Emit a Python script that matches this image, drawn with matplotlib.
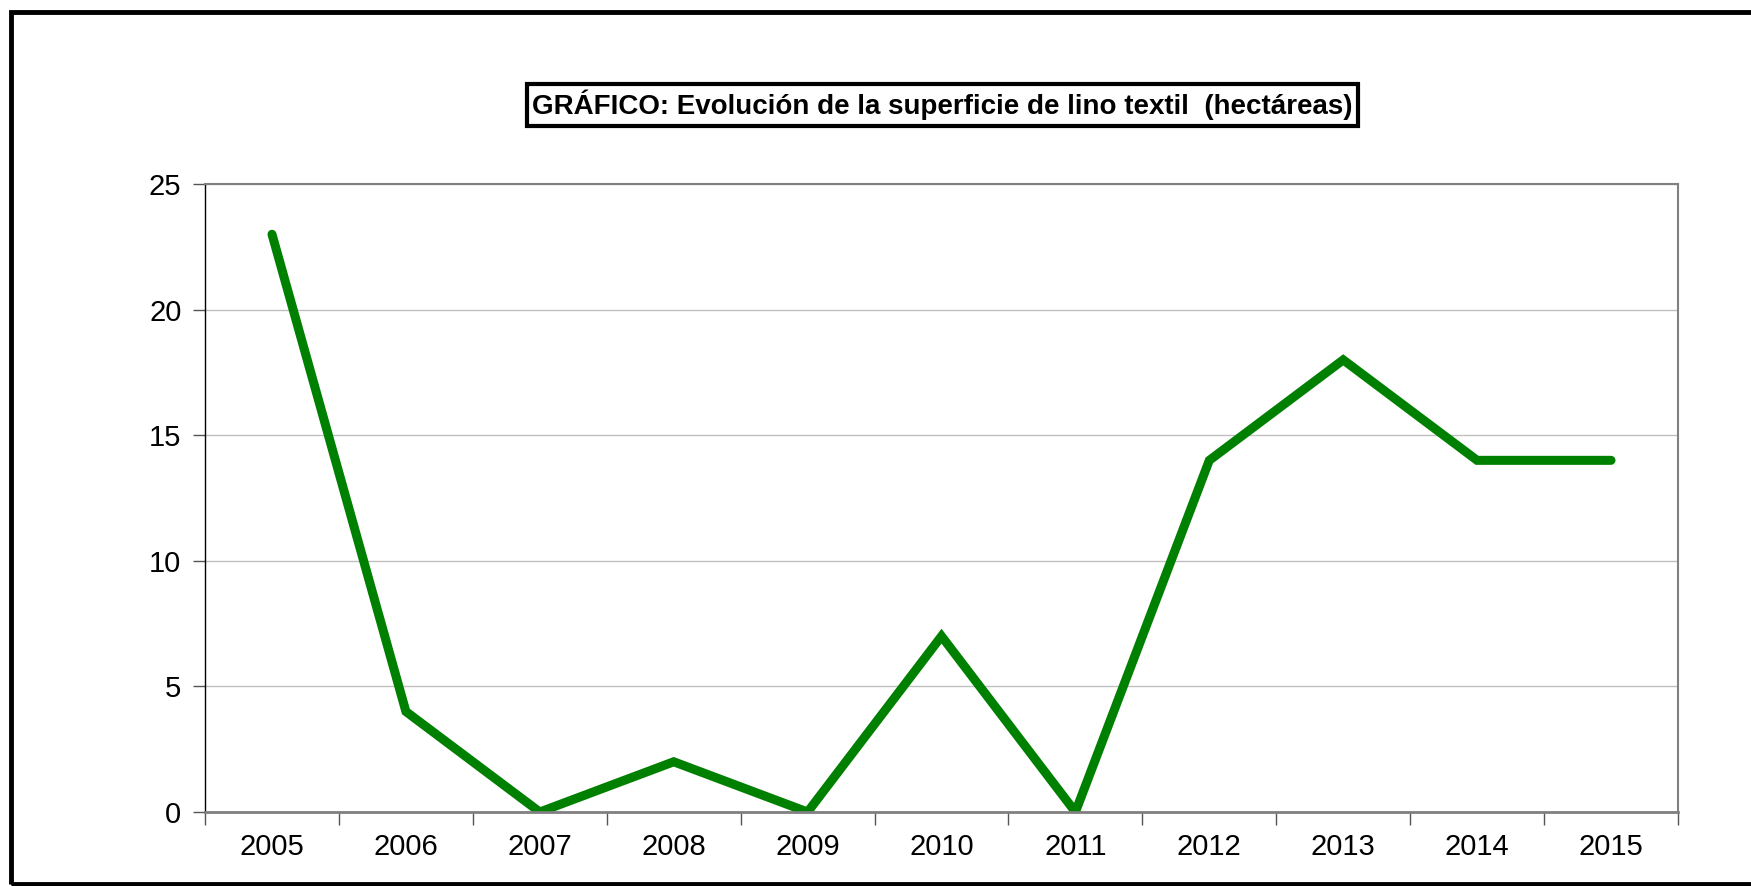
import matplotlib
matplotlib.use('Agg')
import matplotlib.pyplot as plt
from matplotlib.patches import Rectangle

plt.rcParams['font.family'] = ['Liberation Sans', 'DejaVu Sans']

# Datos
anios = ['2005', '2006', '2007', '2008', '2009', '2010',
         '2011', '2012', '2013', '2014', '2015']
superficie = [23, 4, 0, 2, 0, 7, 0, 14, 18, 14, 14]
y_ticks = [0, 5, 10, 15, 20, 25]
titulo = 'GRÁFICO: Evolución de la superficie de lino textil  (hectáreas)'

fig = plt.figure(figsize=(17.51, 8.86), dpi=100)
ax = fig.add_axes([0.1171, 0.0835, 0.8412, 0.7088])

x = list(range(len(anios)))
ax.plot(x, superficie, color='#008000', linewidth=6.5,
        solid_joinstyle='miter', solid_capstyle='round')

ax.set_xlim(-0.5, len(anios) - 0.5)
ax.set_ylim(0, 25)
ax.set_yticks(y_ticks)
ax.set_yticklabels([str(v) for v in y_ticks], fontsize=21)

# ticks del eje x en los límites de categoría, etiquetas centradas
ax.set_xticks([i - 0.5 for i in range(len(anios) + 1)])
ax.set_xticklabels([])
ax.set_xticks(x, minor=True)
ax.set_xticklabels(anios, minor=True, fontsize=21)
ax.tick_params(axis='x', which='minor', length=0, pad=15)
ax.tick_params(axis='x', which='major', length=9, width=1, color='#555555', direction='out')
ax.tick_params(axis='y', length=9, width=1, color='#555555', direction='out', pad=8)

ax.grid(axis='y', color='#c0c0c0', linewidth=1)
ax.set_axisbelow(True)

ax.spines['left'].set_color('black')
ax.spines['left'].set_linewidth(1)
for s in ['top', 'right']:
    ax.spines[s].set_color('#808080')
    ax.spines[s].set_linewidth(1.5)
ax.spines['bottom'].set_color('#808080')
ax.spines['bottom'].set_linewidth(2)

# Título con recuadro
fig.text(0.5383, 0.8815, titulo, ha='center', va='center', fontsize=20,
         fontweight='bold',
         bbox=dict(boxstyle='square,pad=0.2', facecolor='white',
                   edgecolor='black', linewidth=3))

# Marco exterior (el borde derecho queda fuera de la imagen)
marco = Rectangle((11 / 1751, 2 / 886), 1.02, 872 / 886, transform=fig.transFigure,
                  fill=False, edgecolor='black', linewidth=3.5, clip_on=False)
fig.add_artist(marco)

plt.savefig('out.png', dpi=100)
plt.close()
